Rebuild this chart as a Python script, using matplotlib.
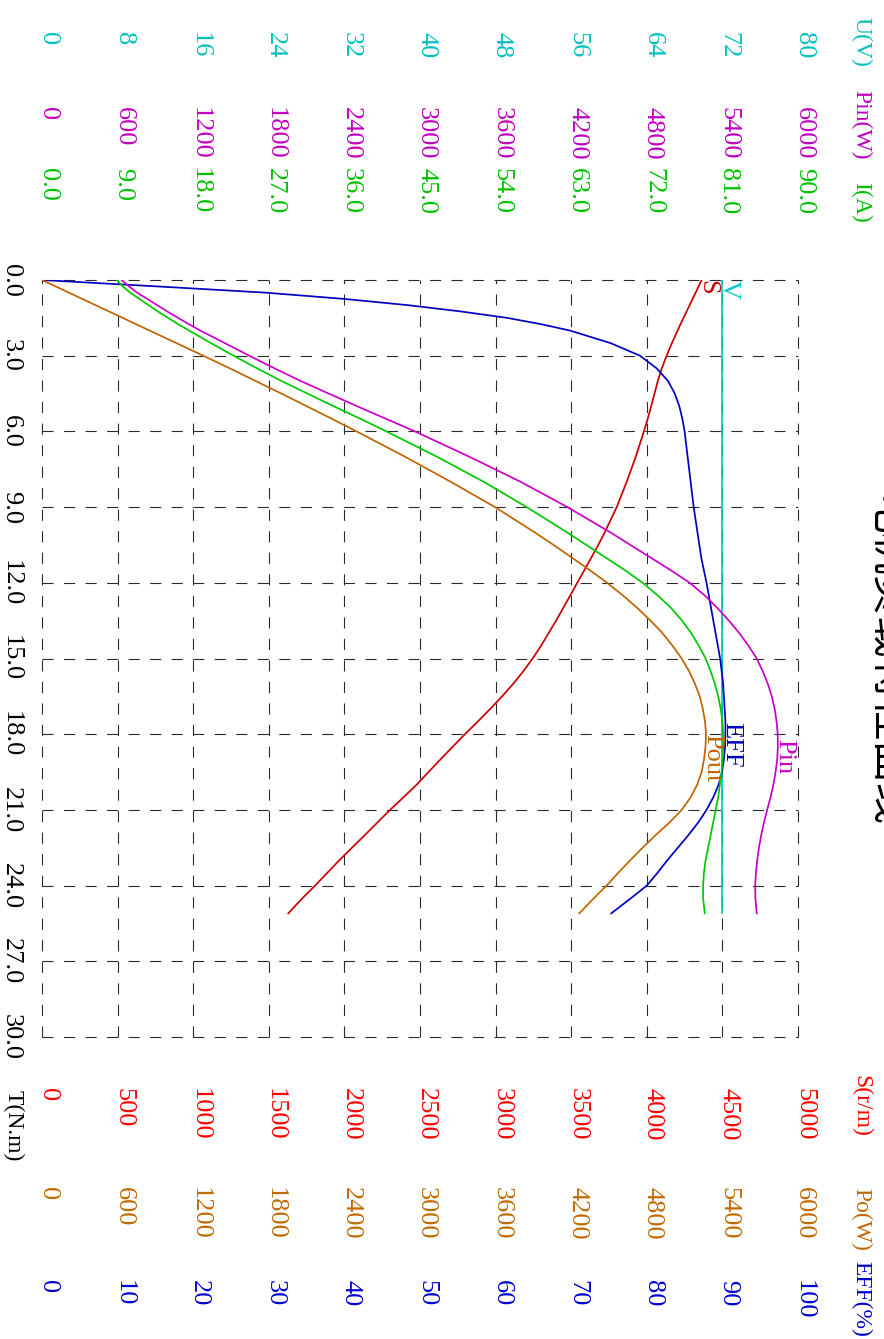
#!/usr/bin/env python3
"""Motor load characteristic chart (drawn turned a quarter clockwise, like the scan)."""

import matplotlib

matplotlib.use("Agg")
import matplotlib.pyplot as plt
import matplotlib.transforms as mtransforms

W, H = 884, 1339
# plot frame in image pixels
LEFT, RIGHT, TOP, BOTTOM = 42, 798, 280, 1037

LATIN = ["Liberation Serif", "DejaVu Serif"]
CJK = ["Noto Sans CJK SC", "DejaVu Sans"]
FS = 19
NAME_FS = 17

# torque (N.m) sample points
T_NM = [0, 0.25, 0.5, 0.75, 1, 1.25, 1.5, 1.75, 2,
        2.5, 3, 3.5, 4, 4.5, 5, 5.5, 6,
        7, 8, 9, 10,
        10.5, 11, 11.5, 12, 12.5, 13, 13.5, 14, 14.5, 15, 15.5, 16, 16.5,
        17, 17.5, 18, 18.5, 19, 19.5, 20, 20.5, 21, 21.5, 22, 22.5, 23,
        23.5, 24, 24.5,
        25.1]
VOLT = [72.0] * len(T_NM)
SPEED = [4363, 4343, 4323, 4303, 4283, 4263, 4243, 4223, 4204,
         4166, 4131, 4099, 4073, 4051, 4029, 4006, 3981,
         3927, 3867, 3801, 3722,
         3679, 3633, 3587, 3540, 3494, 3447, 3400, 3350, 3300, 3245, 3184,
         3117, 3043, 2964, 2882, 2797, 2716, 2635, 2556, 2478, 2391, 2302,
         2218, 2135, 2050, 1966, 1886, 1806, 1722,
         1629]
EFF = [0, 15, 29.5, 40, 48.5, 55.5, 61.5, 66.0, 69.8,
       75.2, 79.1, 81.3, 82.8, 83.7, 84.3, 84.7, 85.0,
       85.4, 85.8, 86.2, 86.7,
       86.95, 87.2, 87.55, 87.9, 88.2, 88.5, 88.8, 89.1, 89.4, 89.7, 89.9,
       90.1, 90.2, 90.3, 90.4, 90.4, 90.35, 90.2, 89.95, 89.5, 88.8, 87.9,
       86.8, 85.5, 84.1, 82.7, 81.4, 80.0, 77.9,
       75.3]
POUT = [0, 107, 213, 320, 426, 533, 640, 746, 853,
        1066, 1280, 1490, 1695, 1900, 2100, 2300, 2497,
        2880, 3245, 3595, 3910,
        4060, 4205, 4348, 4485, 4610, 4725, 4830, 4925, 5005, 5077, 5135,
        5182, 5220, 5245, 5262, 5270, 5266, 5254, 5235, 5200, 5148, 5077,
        4980, 4870, 4766, 4668, 4572, 4481, 4380,
        4264]
CURRENT = [8.9, 9.6, 10.5, 11.6, 12.7, 13.8, 15.0, 16.2, 17.5,
           20.1, 22.8, 25.6, 28.5, 31.6, 34.7, 37.9, 41.0,
           47.0, 52.6, 57.7, 62.5,
           64.8, 67.1, 69.4, 71.5, 73.3, 74.9, 76.2, 77.3, 78.2, 79.0, 79.6,
           80.1, 80.5, 80.8, 81.0, 81.1, 81.1, 81.0, 80.9, 80.7, 80.5, 80.2,
           79.9, 79.6, 79.3, 79.0, 78.8, 78.7, 78.7,
           78.9]
PIN = [632, 690, 755, 835, 915, 995, 1080, 1165, 1255,
       1450, 1645, 1845, 2052, 2275, 2500, 2730, 2960,
       3390, 3800, 4170, 4510,
       4670, 4830, 4990, 5140, 5260, 5360, 5452, 5535, 5608, 5672, 5720,
       5760, 5792, 5815, 5830, 5839, 5840, 5835, 5822, 5805, 5782, 5755,
       5730, 5708, 5690, 5676, 5666, 5660, 5662,
       5672]

T_TICKS = ["0.0", "3.0", "6.0", "9.0", "12.0", "15.0", "18.0", "21.0",
           "24.0", "27.0", "30.0"]
U_TICKS = ["0", "8", "16", "24", "32", "40", "48", "56", "64", "72", "80"]
PIN_TICKS = ["0", "600", "1200", "1800", "2400", "3000", "3600", "4200",
             "4800", "5400", "6000"]
I_TICKS = ["0.0", "9.0", "18.0", "27.0", "36.0", "45.0", "54.0", "63.0",
           "72.0", "81.0", "90.0"]
S_TICKS = ["0", "500", "1000", "1500", "2000", "2500", "3000", "3500",
           "4000", "4500", "5000"]
PO_TICKS = ["0", "600", "1200", "1800", "2400", "3000", "3600", "4200",
            "4800", "5400", "6000"]
EFF_TICKS = ["0", "10", "20", "30", "40", "50", "60", "70", "80", "90", "100"]

TITLE = "电机负载特性曲线"

# name, values, full scale, curve colour, tick labels, tick colour, axis name,
# y where ticks start, y where name starts (image px), curve label, label torque
SERIES = [
    ("V", VOLT, 80, "#00c8c8", U_TICKS, "#00c0c0", "U(V)", 32, 17, "V", 0.0),
    ("S", SPEED, 5000, "#c80000", S_TICKS, "#ff0000", "S(r/m)", 1088, 1075, "S", 0.0),
    ("EFF", EFF, 100, "#0000c0", EFF_TICKS, "#0000d0", "EFF(%)", 1280, 1261, "EFF", 17.5),
    ("Pout", POUT, 6000, "#c06400", PO_TICKS, "#c06a00", "Po(W)", 1187, 1188, "Pout", 18.0),
    ("I", CURRENT, 90, "#00c800", I_TICKS, "#00c000", "I(A)", 168, 182, None, 0.0),
    ("Pin", PIN, 6000, "#c800c8", PIN_TICKS, "#c000c0", "Pin(W)", 107, 90, "Pin", 18.2),
]


def _fy(y_img: float) -> float:
    return 1.0 - y_img / H


def _fx(x_img: float) -> float:
    return x_img / W


def _vtext(fig, x, y, s, transform, color, size=FS, ha="left", family=None):
    # text turned clockwise: reads downward, glyph tops point right
    fig.text(x, y, s, transform=transform, color=color, fontsize=size,
             family=family or LATIN, rotation=270, rotation_mode="anchor",
             ha=ha, va="baseline")


def _value_at(t, ts, vs):
    for i in range(len(ts) - 1):
        if ts[i] <= t <= ts[i + 1]:
            f = (t - ts[i]) / (ts[i + 1] - ts[i])
            return vs[i] + f * (vs[i + 1] - vs[i])
    return vs[-1]


def main() -> int:
    plt.rcParams["lines.scale_dashes"] = False
    fig = plt.figure(figsize=(W / 100, H / 100), dpi=100)
    ax = fig.add_axes([_fx(LEFT), _fy(BOTTOM), (RIGHT - LEFT) / W, (BOTTOM - TOP) / H])
    ax.set_xlim(0, 80)
    ax.set_ylim(30, 0)
    ax.set_xticks(range(0, 81, 8))
    ax.set_yticks(range(0, 31, 3))
    ax.grid(True, color="#2a2a2a", lw=0.8, linestyle=(0, (8, 7.5)))
    ax.tick_params(length=0, labelbottom=False, labelleft=False)
    for sp in ax.spines.values():
        sp.set_visible(False)
    for gl in ax.get_xgridlines() + ax.get_ygridlines():
        gl.set_clip_on(False)

    y_fig = mtransforms.blended_transform_factory(fig.transFigure, ax.transData)

    for name, vals, vmax, color, ticks, tcolor, aname, ty, ny, label, lt in SERIES:
        tw = ax.twiny()
        tw.set_xlim(0, vmax)
        tw.set_axis_off()
        tw.plot(vals, T_NM, color=color, lw=1.25, zorder=3)

        x_fig = mtransforms.blended_transform_factory(tw.transData, fig.transFigure)
        step = vmax / (len(ticks) - 1)
        for i, lab in enumerate(ticks):
            _vtext(fig, i * step, _fy(ty), lab, x_fig, tcolor)
        _vtext(fig, _fx(855), _fy(ny), aname, fig.transFigure, tcolor, size=NAME_FS)

        if label:
            _vtext(fig, _value_at(lt, T_NM, vals), lt, label, tw.transData, color)

    for i, lab in enumerate(T_TICKS):
        _vtext(fig, _fx(5), i * 3, lab, y_fig, "black", ha="center")
    _vtext(fig, _fx(8), _fy(1090), "T(N.m)", fig.transFigure, "black", size=NAME_FS)

    # the title runs off the right edge in the original as well
    _vtext(fig, _fx(872), _fy(663), TITLE, fig.transFigure, "black",
           size=30, ha="center", family=CJK)

    fig.savefig("out.png", dpi=100)
    plt.close(fig)
    return 0


if __name__ == "__main__":
    raise SystemExit(main())
